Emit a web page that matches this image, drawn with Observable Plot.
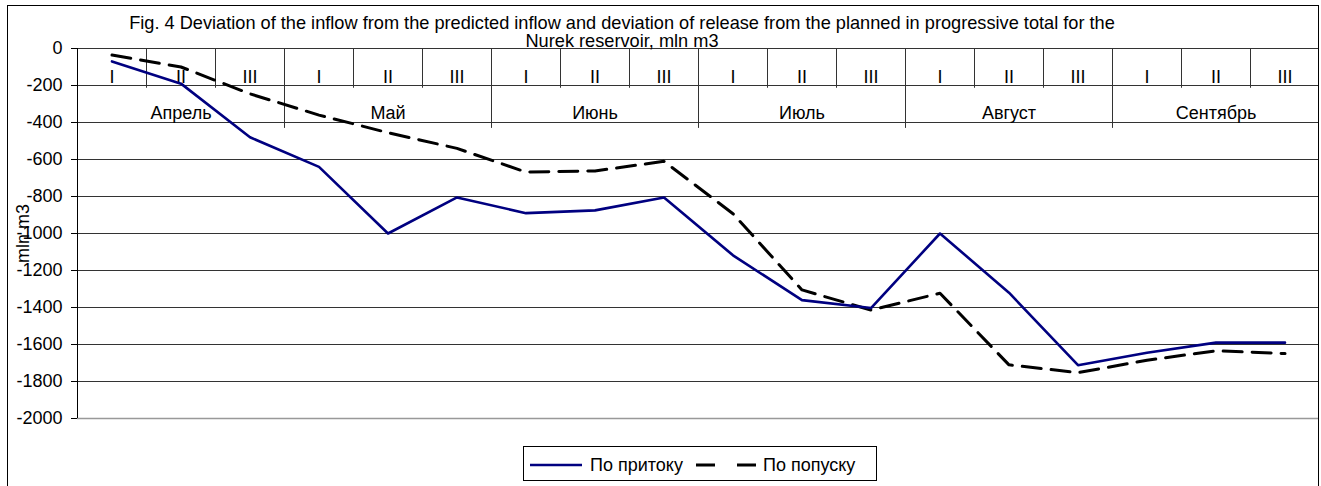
<!DOCTYPE html>
<html>
<head>
<meta charset="utf-8">
<script src="https://cdn.jsdelivr.net/npm/d3@7"></script>
<script src="https://cdn.jsdelivr.net/npm/@observablehq/plot@0.6"></script>
<style>
  html, body { margin: 0; padding: 0; background: #fff; width: 1321px; height: 486px; overflow: hidden; }
  body { position: relative; font-family: "Liberation Sans", Arial, sans-serif; }
  #frame { position: absolute; left: 7px; top: 5px; width: 1312px; height: 500px; border: 1px solid #000; box-sizing: border-box; pointer-events: none; z-index: 3; }
  #chart { position: absolute; left: 0; top: 0; }
  #title { position: absolute; left: 0; top: 14px; width: 1244px; text-align: center; font-size: 18.2px; line-height: 18px; color: #000; z-index: 2; white-space: nowrap; }
  #legend { position: absolute; left: 523px; top: 446px; z-index: 2; }
</style>
</head>
<body>
<div id="frame"></div>
<div id="chart"></div>
<div id="title">Fig. 4 Deviation of the inflow from the predicted inflow and deviation of release from the planned in progressive total for the<br>Nurek reservoir, mln m3</div>
<div id="legend"></div>
<script>
// ---- data ----
const decades = ["I", "II", "III"];
const months = ["Апрель", "Май", "Июнь", "Июль", "Август", "Сентябрь"];
const inflow  = [-70, -190, -480, -640, -1000, -805, -890, -875, -805, -1118, -1360, -1403, -1000, -1320, -1712, -1645, -1590, -1590];
const release = [-35, -100, -245, -360, -455, -540, -668, -662, -610, -893, -1305, -1414, -1323, -1710, -1752, -1685, -1634, -1649];
const yTicks = [0, -200, -400, -600, -800, -1000, -1200, -1400, -1600, -1800, -2000];
const seriesNames = ["По притоку", "По попуску"];
const yTitle = "mln m3";

// ---- derived tables ----
const periods = [];
months.forEach((m, mi) => decades.forEach((d, di) => periods.push({month: m, decade: d, i: mi * 3 + di})));
const inflowData = inflow.map((v, i) => ({x: i + 0.5, y: v}));
const releaseData = release.map((v, i) => ({x: i + 0.5, y: v}));
const monthData = months.map((m, mi) => ({x: mi * 3 + 1.5, label: m}));
const decadeData = periods.map(p => ({x: p.i + 0.5, label: p.decade}));
const innerBounds = periods.slice(1).filter(p => p.i % 3 !== 0).map(p => p.i);
const monthBounds = periods.slice(1).filter(p => p.i % 3 === 0).map(p => p.i);
const n = periods.length;

const chart = Plot.plot({
  width: 1321,
  height: 486,
  marginLeft: 77,
  marginRight: 2,
  marginTop: 48,
  marginBottom: 68,
  style: {fontFamily: "Liberation Sans, Arial, sans-serif", fontSize: "18px", color: "#000", background: "transparent", overflow: "visible"},
  x: {domain: [0, n], axis: null},
  y: {domain: [-2000, 0], axis: null},
  marks: [
    Plot.ruleY(yTicks.filter(t => t !== -2000), {x1: 0, x2: n, stroke: "#333", strokeWidth: 1}),
    Plot.ruleY([-2000], {x1: 0, x2: n, stroke: "#999", strokeWidth: 1.5}),
    Plot.ruleX(innerBounds, {y1: 0, y2: -215, stroke: "#333", strokeWidth: 1}),
    Plot.ruleX(monthBounds, {y1: 0, y2: -432, stroke: "#333", strokeWidth: 1}),
    Plot.ruleX([0], {y1: -2000, y2: 0, stroke: "#000", strokeWidth: 1}),
    Plot.axisY({ticks: yTicks, tickSize: 6, tickPadding: 9, tickFormat: d => String(d), fontSize: 18, label: null, stroke: "#000"}),
    Plot.text([yTitle], {frameAnchor: "left", textAnchor: "middle", lineAnchor: "middle", rotate: -90, dx: -54, fontSize: 18, fill: "#000"}),
    Plot.text(decadeData, {x: "x", y: () => -158, text: "label", fontSize: 18, fill: "#000"}),
    Plot.text(monthData, {x: "x", y: () => -352, text: "label", fontSize: 18, fill: "#000"}),
    Plot.line(releaseData, {x: "x", y: "y", stroke: "#000", strokeWidth: 3, strokeDasharray: "19,10"}),
    Plot.line(inflowData, {x: "x", y: "y", stroke: "#000080", strokeWidth: 2.6})
  ]
});
document.getElementById("chart").appendChild(chart);

// ---- legend ----
const lg = d3.select("#legend").append("svg").attr("width", 354).attr("height", 35)
  .style("font-family", "Liberation Sans, Arial, sans-serif").style("font-size", "18px");
lg.append("rect").attr("x", 0.5).attr("y", 0.5).attr("width", 353).attr("height", 34).attr("fill", "#fff").attr("stroke", "#000");
lg.append("line").attr("x1", 7).attr("x2", 59).attr("y1", 19).attr("y2", 19).attr("stroke", "#000080").attr("stroke-width", 2.6);
lg.append("text").attr("x", 67).attr("y", 25).text(seriesNames[0]);
lg.append("line").attr("x1", 173).attr("x2", 234).attr("y1", 19).attr("y2", 19).attr("stroke", "#000").attr("stroke-width", 3).attr("stroke-dasharray", "19,22");
lg.append("text").attr("x", 240).attr("y", 25).text(seriesNames[1]);
</script>
</body>
</html>
